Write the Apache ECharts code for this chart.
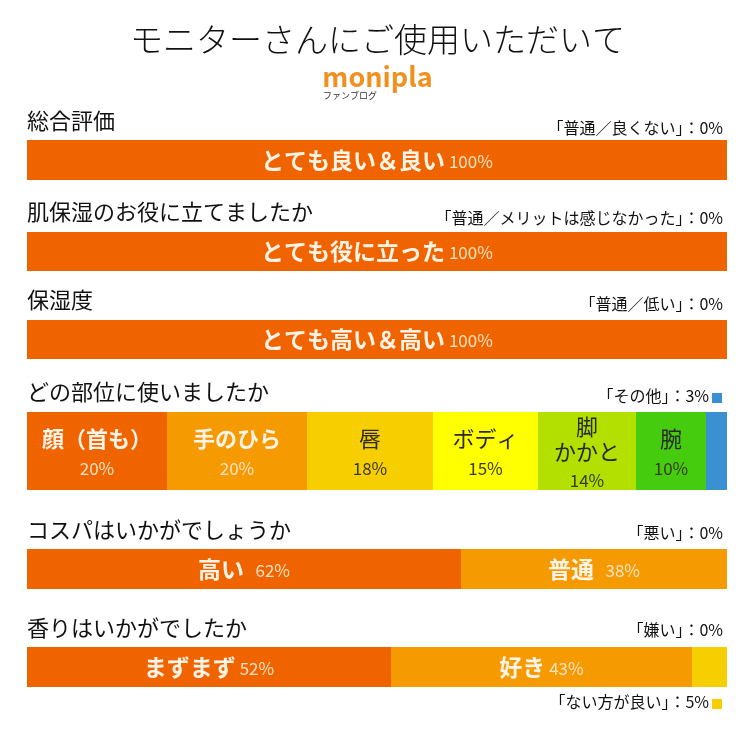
<!DOCTYPE html>
<html>
<head>
<meta charset="utf-8">
<script src="https://cdn.jsdelivr.net/npm/echarts@6/dist/echarts.min.js"></script>
<style>
  html, body { margin: 0; padding: 0; background: #fff; }
  #main { width: 755px; height: 734px; }
</style>
</head>
<body>
<div id="main"></div>
<script>
// 各設問の回答（%）
const q1Names = ['とても良い＆良い'];
const q1Values = [100];
const q2Names = ['とても役に立った'];
const q2Values = [100];
const q3Names = ['とても高い＆高い'];
const q3Values = [100];
const q4Names = ['顔（首も）', '手のひら', '唇', 'ボディ', '脚\nかかと', '腕', 'その他'];
const q4Values = [20, 20, 18, 15, 14, 10, 3];
const q5Names = ['高い', '普通'];
const q5Values = [62, 38];
const q6Names = ['まずまず', '好き', 'ない方が良い'];
const q6Values = [52, 43, 5];

const sectionTitles = ['総合評価', '肌保湿のお役に立てましたか', '保湿度', 'どの部位に使いましたか', 'コスパはいかがでしょうか', '香りはいかがでしたか'];
const sideNotes = ['「普通／良くない」：0%', '「普通／メリットは感じなかった」：0%', '「普通／低い」：0%', '「その他」：3%', '「悪い」：0%', '「嫌い」：0%', '「ない方が良い」：5%'];

const FONT = '"Noto Sans CJK JP", "Noto Sans", sans-serif';
const C_DARK = '#f06400', C_ORANGE = '#f59a00', C_YELLOW = '#f7cf00',
      C_LEMON = '#ffff00', C_LIME = '#b4e000', C_GREEN = '#46cc0e', C_BLUE = '#3a90d0';

// grid位置（上端, 高さ）
const rows = [
  { top: 140, h: 40 },
  { top: 232, h: 39 },
  { top: 320, h: 39 },
  { top: 412, h: 78 },
  { top: 549, h: 40 },
  { top: 647, h: 40 }
];

const questions = [
  { names: q1Names, values: q1Values, colors: [C_DARK], light: [true], inline: true },
  { names: q2Names, values: q2Values, colors: [C_DARK], light: [true], inline: true },
  { names: q3Names, values: q3Values, colors: [C_DARK], light: [true], inline: true },
  { names: q4Names, values: q4Values,
    colors: [C_DARK, C_ORANGE, C_YELLOW, C_LEMON, C_LIME, C_GREEN, C_BLUE],
    light: [true, true, false, false, false, false, false], inline: false, hide: [6] },
  { names: q5Names, values: q5Values, colors: [C_DARK, C_ORANGE], light: [true, true], inline: true },
  { names: q6Names, values: q6Values, colors: [C_DARK, C_ORANGE, C_YELLOW], light: [true, true, false], inline: true, hide: [2] }
];

const grids = [], xAxes = [], yAxes = [], series = [];

questions.forEach(function (q, gi) {
  grids.push({ left: 27, right: 28, top: rows[gi].top, height: rows[gi].h });
  xAxes.push({ type: 'value', gridIndex: gi, min: 0, max: 100, show: false });
  yAxes.push({ type: 'category', gridIndex: gi, data: [''], show: false });
  q.names.forEach(function (name, si) {
    const light = q.light[si];
    const hidden = q.hide && q.hide.indexOf(si) >= 0;
    series.push({
      type: 'bar',
      name: name,
      xAxisIndex: gi,
      yAxisIndex: gi,
      stack: 'q' + gi,
      barWidth: '100%',
      silent: true,
      itemStyle: { color: q.colors[si] },
      data: [q.values[si]],
      label: {
        show: !hidden,
        position: 'inside',
        offset: q.inline ? [0, 0] : [0, 5],
        fontFamily: FONT,
        formatter: function (p) {
          const pct = p.value + '%';
          const gap = gi === 4 ? '   ' : ' ';
          if (q.inline) return '{n|' + name + '}{p|' + gap + pct + '}';
          const lines = name.split('\n').map(function (t) { return '{n|' + t + '}'; });
          return lines.join('\n') + '\n{p|' + pct + '}';
        },
        rich: q.inline ? {
          n: { fontFamily: FONT, fontSize: 23, fontWeight: 'bold', color: '#fdf3e6' },
          p: { fontFamily: FONT, fontSize: 17, color: '#fde2c2', padding: [3, 0, 0, 0] }
        } : {
          n: { fontFamily: FONT, fontSize: 22, lineHeight: 25,
               fontWeight: light ? 'bold' : 'normal', color: light ? '#fdf3e6' : '#2a2a2a' },
          p: { fontFamily: FONT, fontSize: 17, lineHeight: 34,
               color: light ? '#fde2c2' : '#3a3a1a' }
        }
      }
    });
  });
});

// 見出し・注記
const graphic = [
  { type: 'text', left: 'center', top: 23,
    style: { text: 'モニターさんにご使用いただいて', font: '300 33px ' + FONT, fill: '#111' } },
  { type: 'text', left: 'center', top: 63,
    style: { text: 'monipla', font: 'bold 27px ' + FONT, fill: '#f0901e' } },
  { type: 'text', left: 323, top: 91,
    style: { text: 'ファンブログ', font: '9px ' + FONT, fill: '#333' } }
];
const titleY = [124, 215, 303, 395, 533, 631];
sectionTitles.forEach(function (t, i) {
  graphic.push({ type: 'text', left: 27, top: titleY[i] - 14,
    style: { text: t, font: '22px ' + FONT, fill: '#111' } });
});
const noteY = [130, 220, 306, 398, 535, 632, 704];
const noteRight = [32, 32, 32, 46, 32, 32, 46];
sideNotes.forEach(function (t, i) {
  graphic.push({ type: 'text', right: noteRight[i], top: noteY[i] - 10,
    style: { text: t, font: '16px ' + FONT, fill: '#111' } });
});
graphic.push({ type: 'rect', shape: { x: 712, y: 393, width: 10, height: 10 }, style: { fill: C_BLUE } });
graphic.push({ type: 'rect', shape: { x: 712, y: 699, width: 10, height: 10 }, style: { fill: C_YELLOW } });

const chart = echarts.init(document.getElementById('main'));
chart.setOption({
  animation: false,
  backgroundColor: '#fff',
  grid: grids,
  xAxis: xAxes,
  yAxis: yAxes,
  series: series,
  graphic: graphic
});
</script>
</body>
</html>
